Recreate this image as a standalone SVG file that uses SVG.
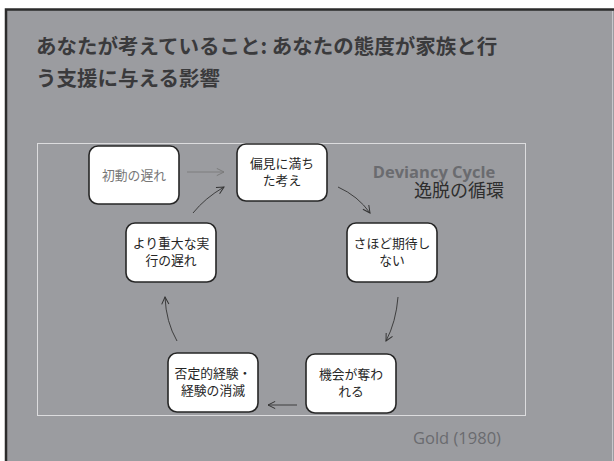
<svg xmlns="http://www.w3.org/2000/svg" width="614" height="461" viewBox="0 0 614 461">
<style>
.bg{fill:#9b9ca0}
.node rect{fill:#ffffff;stroke:#262626;stroke-width:1.6}
.node text{font-family:"Noto Sans CJK JP","Noto Sans",sans-serif;font-size:12.8px;fill:#262626;text-anchor:middle}
.title{font-family:"Noto Sans CJK JP",sans-serif;font-size:20.5px;font-weight:bold;fill:#3a3a3c}
.conn path{fill:none;stroke:#333333;stroke-width:0.9}
</style>
<defs>
<marker id="ah" viewBox="0 0 10 10" refX="9" refY="5" markerWidth="9" markerHeight="9" markerUnits="userSpaceOnUse" orient="auto">
<path d="M1,1 L9,5 L1,9" fill="none" stroke="#333333" stroke-width="1.1"/>
</marker>
<marker id="ahl" viewBox="0 0 10 10" refX="9" refY="5" markerWidth="9" markerHeight="9" markerUnits="userSpaceOnUse" orient="auto">
<path d="M1,1 L9,5 L1,9" fill="none" stroke="#7a7a7a" stroke-width="1.1"/>
</marker>
</defs>
<rect x="0" y="0" width="614" height="461" fill="#ffffff"/>
<rect class="bg" x="6" y="9.5" width="630" height="470" stroke="#2b2b2b" stroke-width="2.5"/>
<line x1="612.5" y1="11" x2="612.5" y2="461" stroke="#c8c8cc" stroke-width="1"/>
<text class="title" x="36" y="54">あなたが考えていること: あなたの態度が家族と行</text>
<text class="title" x="36" y="86">う支援に与える影響</text>
<rect x="37.5" y="143.5" width="488" height="272" fill="none" stroke="#dcdcde" stroke-width="1"/>
<text x="434" y="178" font-family="'Open Sans','Liberation Sans',sans-serif" font-size="16.5" font-weight="bold" fill="#6a6b6f" text-anchor="middle">Deviancy Cycle</text>
<text x="459" y="197" font-family="'Noto Sans CJK JP',sans-serif" font-size="18" fill="#2e2e2e" text-anchor="middle">逸脱の循環</text>
<text x="457" y="444" font-family="'Open Sans','Liberation Sans',sans-serif" font-size="16.5" fill="#6a6b6f" text-anchor="middle">Gold (1980)</text>
<g class="conn">
<path d="M187,172 L224,172" marker-end="url(#ahl)" style="stroke:#7a7a7a"/>
<path d="M193,213 Q205,198 224,187" marker-end="url(#ah)"/>
<path d="M338,187 Q358,196 370,213" marker-end="url(#ah)"/>
<path d="M398,297 Q396,322 386,341" marker-end="url(#ah)"/>
<path d="M297,405 L268,405" marker-end="url(#ah)"/>
<path d="M177,341 Q166,322 165,297" marker-end="url(#ah)"/>
</g>
<g id="n1" class="node"><rect x="89" y="146" width="90" height="58" rx="9"/><text x="134" y="180" style="fill:#777777">初動の遅れ</text></g>
<g id="n2" class="node"><rect x="237" y="144" width="90" height="57" rx="9"/><text x="282" y="168">偏見に満ち</text><text x="282" y="185">た考え</text></g>
<g id="n3" class="node"><rect x="347" y="223" width="90" height="59" rx="9"/><text x="392" y="248">さほど期待し</text><text x="392" y="265">ない</text></g>
<g id="n4" class="node"><rect x="306" y="354" width="90" height="59" rx="9"/><text x="351" y="379">機会が奪わ</text><text x="351" y="396">れる</text></g>
<g id="n5" class="node"><rect x="168" y="353" width="90" height="59" rx="9"/><text x="213" y="378">否定的経験・</text><text x="213" y="395">経験の消滅</text></g>
<g id="n6" class="node"><rect x="126" y="223" width="90" height="59" rx="9"/><text x="171" y="248">より重大な実</text><text x="171" y="265">行の遅れ</text></g>
</svg>
